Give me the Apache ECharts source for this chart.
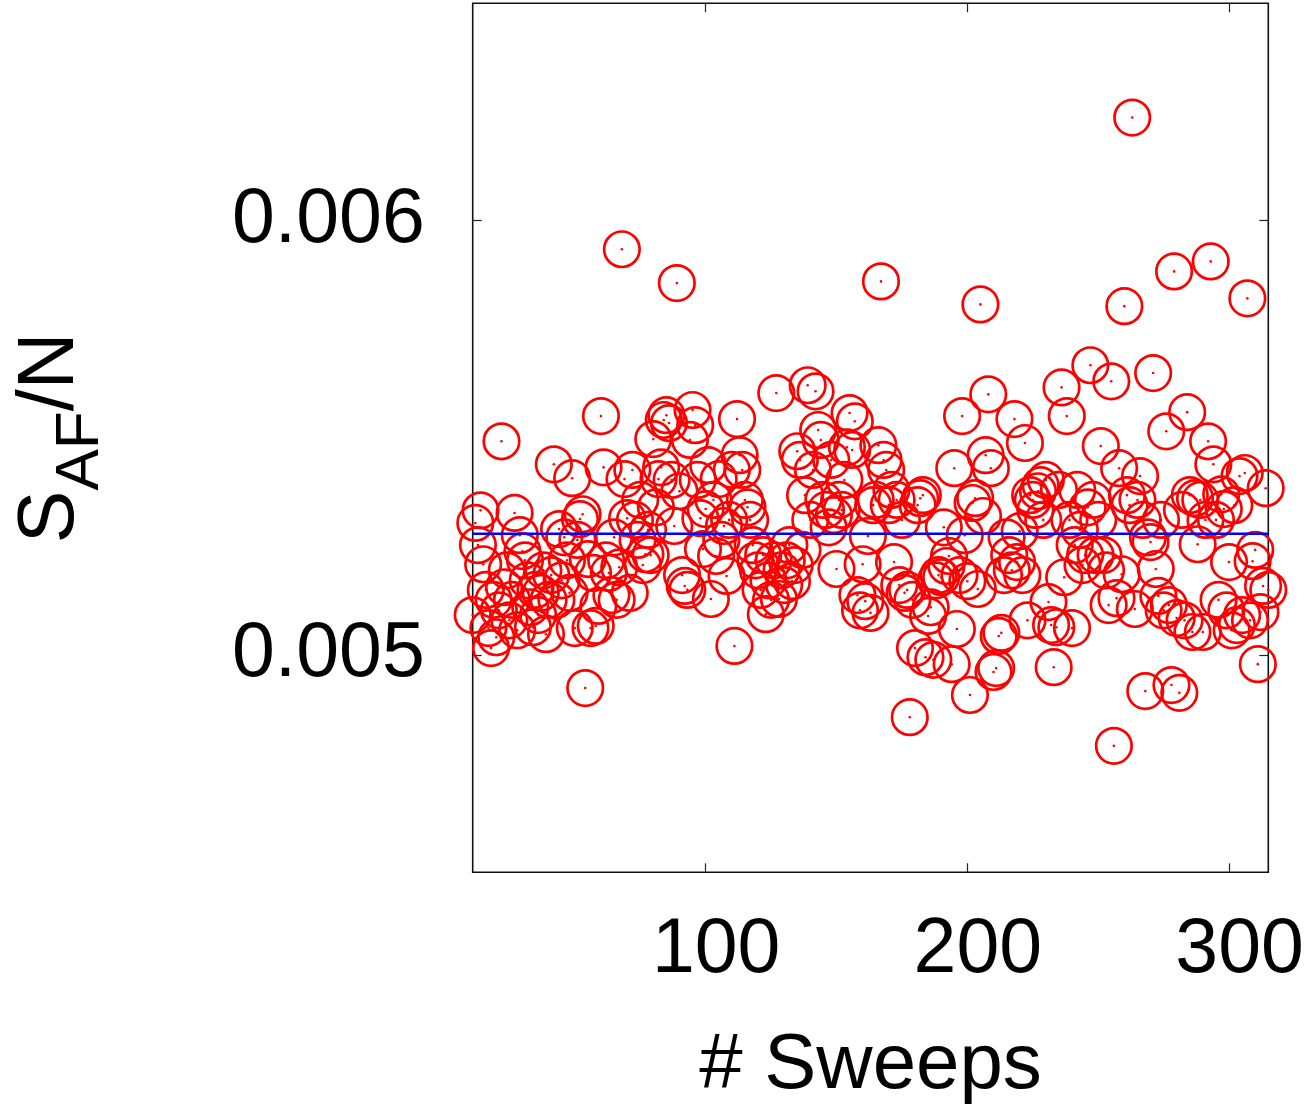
<!DOCTYPE html>
<html><head><meta charset="utf-8">
<script src="https://cdn.jsdelivr.net/npm/echarts@6/dist/echarts.min.js"></script>
<style>html,body{margin:0;padding:0;background:#fff}#c{width:1307px;height:1110px}</style>
</head><body><div id="c"></div>
<script>
// S_AF/N per sweep, sweeps FIRST_SWEEP .. FIRST_SWEEP + length - 1
const FIRST_SWEEP = 11;
const X_MIN = 11, X_MAX = 315;
const sAF = [
0.005092,0.005304,0.005253,0.005333,0.005209,0.005150,0.005062,0.005016,0.005127,0.005041,
0.005103,0.005492,0.005156,0.005195,0.005080,0.005127,0.005327,0.005057,0.005276,0.005239,
0.005218,0.005172,0.005110,0.005064,0.005150,0.005092,0.005143,0.005195,0.005048,0.005127,
0.005184,0.005439,0.005127,0.005290,0.005172,0.005271,0.005218,0.005143,0.005407,0.005062,
0.005265,0.005313,0.005324,0.004924,0.005221,0.005062,0.005189,0.005067,0.005113,0.005550,
0.005432,0.005218,0.005189,0.005138,0.005271,0.005127,0.005202,0.005934,0.005405,0.005315,
0.005143,0.005426,0.005311,0.005265,0.005357,0.005207,0.005232,0.005288,0.005230,0.005497,
0.005340,0.005405,0.005432,0.005541,0.005552,0.005534,0.005403,0.005297,0.005856,0.005377,
0.005184,0.005159,0.005150,0.005495,0.005564,0.005529,0.005403,0.005315,0.005244,0.005336,
0.005437,0.005129,0.005357,0.005228,0.005405,0.005265,0.005297,0.005182,0.005311,0.005426,
0.005021,0.005543,0.005460,0.005426,0.005357,0.005340,0.005311,0.005253,0.005218,0.005195,
0.005150,0.005230,0.005094,0.005172,0.005127,0.005218,0.005603,0.005129,0.005195,0.005161,
0.005218,0.005253,0.005170,0.005207,0.005469,0.005449,0.005242,0.005368,0.005621,0.005311,
0.005426,0.005607,0.005518,0.005495,0.005357,0.005334,0.005294,0.005449,0.005322,0.005198,
0.005357,0.005334,0.005403,0.005478,0.005557,0.005472,0.005538,0.005138,0.005103,0.005209,
0.005124,0.005274,0.005097,0.005345,0.005357,0.005483,0.005860,0.005449,0.005426,
0.005345,0.005380,0.005214,0.005357,0.005161,0.005311,0.005143,0.005150,0.004857,0.005127,
0.005016,0.005345,0.005361,0.005368,0.004995,0.005090,0.005110,0.004989,0.005172,0.005184,
0.005179,0.005294,0.005205,0.005228,0.004979,0.005430,0.005060,0.005184,0.005550,0.005276,
0.005170,0.004908,0.005350,0.005361,0.005152,0.005807,0.005320,0.005460,0.005600,0.005430,
0.004961,0.004970,0.005044,0.005051,0.005184,0.005271,0.005230,0.005195,0.005543,0.005214,
0.005285,0.005184,0.005488,0.005080,0.005368,0.005357,0.005334,0.005377,0.005391,0.005311,
0.005403,0.005122,0.005069,0.004972,0.005064,0.005380,0.005616,0.005179,0.005550,0.005311,
0.005062,0.005253,0.005380,0.005288,0.005207,0.005230,0.005340,0.005667,0.005357,0.005230,
0.005311,0.005481,0.005230,0.005195,0.005115,0.005630,0.004791,0.005131,0.005430,0.005186,
0.005803,0.005368,0.005345,0.006237,0.005106,0.005357,0.005412,0.005311,0.004917,0.005271,
0.005260,0.005649,0.005198,0.005136,0.005311,0.005103,0.005515,0.005115,0.004931,0.005883,
0.005085,0.004913,0.005334,0.005080,0.005559,0.005368,0.005053,0.005361,0.005255,0.005357,
0.005053,0.005311,0.005492,0.005906,0.005439,0.005311,0.005127,0.005370,0.005336,0.005103,
0.005214,0.005057,0.005345,0.005069,0.005412,0.005092,0.005419,0.005821,0.005080,0.005216,
0.005242,0.004979,0.005099,0.005159,0.005384,0.005150
];
const MEAN_SAF = 0.005279;
const X_TICKS = [100, 200, 300];
const Y_TICKS = [0.005, 0.006];
const Y_MIN = 0.0045, Y_MAX = 0.0065;

const points = sAF.map((v, i) => [FIRST_SWEEP + i, v]);
const meanLine = [[X_MIN, MEAN_SAF], [X_MAX, MEAN_SAF]];

const FONT = 'Liberation Sans';
const tickStyle = { color: '#222', width: 1.2 };

const chart = echarts.init(document.getElementById('c'), null, { renderer: 'canvas' });
chart.setOption({
  animation: false,
  backgroundColor: '#fff',
  textStyle: { fontFamily: FONT },
  grid: {
    left: 472.7, right: 38.7, top: 3.3, bottom: 237.7,
    containLabel: false, outerBoundsMode: 'none',
    show: true, borderColor: '#111', borderWidth: 1.6, backgroundColor: 'transparent'
  },
  xAxis: [{
    type: 'value', min: X_MIN, max: X_MAX, position: 'bottom',
    axisLine: { show: false },
    splitLine: { show: false },
    axisTick: { show: true, inside: true, length: 9, lineStyle: tickStyle, customValues: X_TICKS },
    axisLabel: { customValues: X_TICKS, margin: 40, fontSize: 77, lineHeight: 77, color: '#000', fontFamily: FONT, padding: [0, 0, 0, 21] },
    name: '# Sweeps', nameLocation: 'middle', nameGap: 155, nameMoveOverlap: false,
    nameTextStyle: { fontSize: 78, lineHeight: 78, color: '#000', fontFamily: FONT }
  }, {
    type: 'value', min: X_MIN, max: X_MAX, position: 'top',
    axisLine: { show: false }, splitLine: { show: false },
    axisTick: { show: true, inside: true, length: 9, lineStyle: tickStyle, customValues: X_TICKS },
    axisLabel: { show: false }
  }],
  yAxis: [{
    type: 'value', min: Y_MIN, max: Y_MAX, position: 'left',
    axisLine: { show: false }, splitLine: { show: false },
    axisTick: { show: true, inside: true, length: 9, lineStyle: tickStyle, customValues: Y_TICKS },
    axisLabel: { customValues: Y_TICKS, margin: 48, fontSize: 77, lineHeight: 77, color: '#000', fontFamily: FONT,
      formatter: v => v.toFixed(3) },
    name: '{m|S}{s|AF}{m|/N}', nameLocation: 'middle', nameRotate: 90, nameGap: 382, nameMoveOverlap: false,
    nameTextStyle: {
      color: '#000', fontFamily: FONT,
      rich: {
        m: { fontSize: 79, lineHeight: 79, fontFamily: FONT, color: '#000' },
        s: { fontSize: 62, lineHeight: 62, fontFamily: FONT, color: '#000', padding: [59, 0, 0, 0] }
      }
    }
  }, {
    type: 'value', min: Y_MIN, max: Y_MAX, position: 'right',
    axisLine: { show: false }, splitLine: { show: false },
    axisTick: { show: true, inside: true, length: 9, lineStyle: tickStyle, customValues: Y_TICKS },
    axisLabel: { show: false }
  }],
  series: [{
    type: 'scatter', name: 'circles', data: points, symbol: 'circle', symbolSize: 35.5,
    itemStyle: { color: 'rgba(0,0,0,0)', borderColor: '#ff0000', borderWidth: 2.7, opacity: 1 },
    silent: true, clip: false, z: 2
  }, {
    type: 'scatter', name: 'dots', data: points, symbol: 'circle', symbolSize: 2.6,
    itemStyle: { color: '#ff0000', opacity: 1 }, silent: true, clip: false, z: 3
  }, {
    type: 'line', name: 'mean', data: meanLine, symbol: 'none',
    lineStyle: { color: '#0000ff', width: 2.5 }, silent: true, z: 4
  }]
});
</script>
</body></html>
